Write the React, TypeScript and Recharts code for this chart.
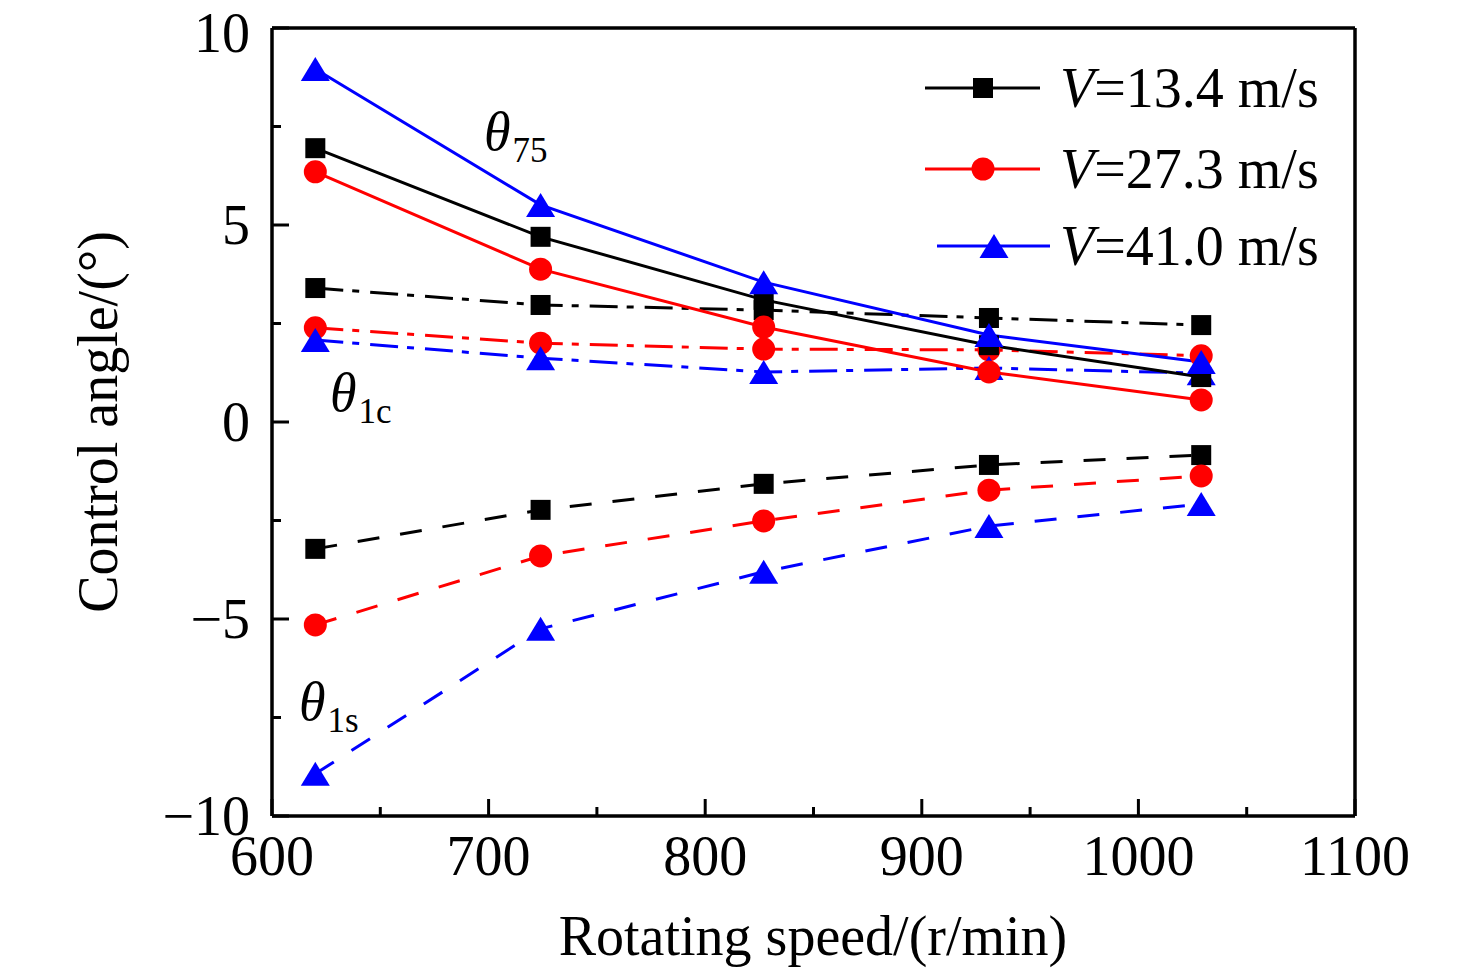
import React from 'react'
import {
  LineChart, Line, XAxis, YAxis, ReferenceLine, Legend, Label,
} from 'recharts'

// rotating speed, r/min
const speeds = [620, 724, 827, 931, 1029]

// theta_75 (solid)
const t75V134 = [6.95, 4.70, 3.10, 1.95, 1.14]
const t75V273 = [6.35, 3.88, 2.41, 1.27, 0.56]
const t75V410 = [8.96, 5.51, 3.55, 2.21, 1.52]

// theta_1c (dash-dot)
const t1cV134 = [3.40, 2.97, 2.84, 2.64, 2.46]
const t1cV273 = [2.39, 2.00, 1.85, 1.83, 1.68]
const t1cV410 = [2.08, 1.62, 1.27, 1.37, 1.24]

// theta_1s (dashed)
const t1sV134 = [-3.22, -2.23, -1.57, -1.09, -0.84]
const t1sV273 = [-5.15, -3.40, -2.51, -1.73, -1.37]
const t1sV410 = [-8.93, -5.25, -3.80, -2.64, -2.08]

const xTicks = [600, 650, 700, 750, 800, 850, 900, 950, 1000, 1050, 1100]
const yTicks = [-10, -7.5, -5, -2.5, 0, 2.5, 5, 7.5, 10]
const legendLabels = ['13.4 m/s', '27.3 m/s', '41.0 m/s']

const FONT = '"Liberation Serif", "Times New Roman", serif'
const FS = 56
const BLACK = '#000000'
const RED = '#ff0000'
const BLUE = '#0000ff'
const DASH = '22 21'
const DASHDOT = '28 9 7 11'

const data = speeds.map((s, i) => ({
  speed: s,
  a1: t75V134[i], a2: t75V273[i], a3: t75V410[i],
  c1: t1cV134[i], c2: t1cV273[i], c3: t1cV410[i],
  s1: t1sV134[i], s2: t1sV273[i], s3: t1sV410[i],
}))

const fmtNum = (v: number) => (v < 0 ? `\u2212${Math.abs(v)}` : `${v}`)

const Square = ({ cx, cy, fill }: any) =>
  cx == null ? null : <rect x={cx - 10} y={cy - 10} width={20} height={20} fill={fill} />
const Circle = ({ cx, cy, fill }: any) =>
  cx == null ? null : <circle cx={cx} cy={cy} r={11.5} fill={fill} />
const Triangle = ({ cx, cy, fill }: any) =>
  cx == null ? null : (
    <polygon points={`${cx},${cy - 12} ${cx + 14.5},${cy + 12} ${cx - 14.5},${cy + 12}`} fill={fill} />
  )

const XTick = ({ x, y, payload }: any) => {
  const major = payload.value % 100 === 0
  return (
    <g>
      <line x1={x} x2={x} y1={y} y2={y - (major ? 17 : 9)} stroke={BLACK} strokeWidth={3} />
      {major && (
        <text x={x} y={y + 59} textAnchor="middle" fontFamily={FONT} fontSize={FS} fill={BLACK}>
          {payload.value}
        </text>
      )}
    </g>
  )
}

const YTick = ({ x, y, payload }: any) => {
  const major = payload.value % 5 === 0
  // keep the top label inside the picture
  const ty = Math.max(y + 19, 52)
  return (
    <g>
      <line x1={x} x2={x + (major ? 17 : 9)} y1={y} y2={y} stroke={BLACK} strokeWidth={3} />
      {major && (
        <text x={x - 22} y={ty} textAnchor="end" fontFamily={FONT} fontSize={FS} fill={BLACK}>
          {fmtNum(payload.value)}
        </text>
      )}
    </g>
  )
}

const LegendBox = () => {
  const rows = [
    { color: BLACK, Marker: Square, x0: 925, x1: 1040, y: 88 },
    { color: RED, Marker: Circle, x0: 925, x1: 1040, y: 169 },
    { color: BLUE, Marker: Triangle, x0: 937, x1: 1050, y: 246 },
  ]
  return (
    <svg width={460} height={240} style={{ position: 'absolute', left: 0, top: 0, overflow: 'visible' }}>
      <g transform="translate(-900,-50)">
        {rows.map((r, i) => (
          <g key={i}>
            <line x1={r.x0} x2={r.x1} y1={r.y} y2={r.y} stroke={r.color} strokeWidth={3} />
            <r.Marker cx={(r.x0 + r.x1) / 2 + 0.5} cy={r.y} fill={r.color} />
            <text x={1060} y={r.y + 19} fontFamily={FONT} fontSize={FS} fill={BLACK}>
              <tspan fontStyle="italic">V</tspan>={legendLabels[i]}
            </text>
          </g>
        ))}
      </g>
    </svg>
  )
}

const Annotation = ({ x, y, sub, subDy = 12 }: { x: number; y: number; sub: string; subDy?: number }) => (
  <text x={x} y={y} fontFamily={FONT} fontSize={54} fill={BLACK}>
    <tspan fontStyle="italic">θ</tspan>
    <tspan fontSize={35} dy={subDy} dx={2}>{sub}</tspan>
  </text>
)

export default function App() {
  const common = { isAnimationActive: false, strokeWidth: 3, type: 'linear' as const, activeDot: false as const }
  return (
    <div style={{ position: 'absolute', left: 0, top: 0, width: 1476, height: 972, background: '#fff' }}>
      <LineChart
        width={1476}
        height={972}
        data={data}
        margin={{ top: 28, right: 121, left: 172, bottom: 56 }}
      >
        <XAxis
          dataKey="speed"
          type="number"
          domain={[600, 1100]}
          ticks={xTicks}
          interval={0}
          tickSize={0}
          tickMargin={0}
          tick={<XTick />}
          height={100}
          axisLine={{ stroke: BLACK, strokeWidth: 3.5 }}
          tickLine={false}
        >
          <Label
            content={() => (
              <text x={813} y={955} textAnchor="middle" fontFamily={FONT} fontSize={FS} fill={BLACK}>
                Rotating speed/(r/min)
              </text>
            )}
          />
        </XAxis>
        <YAxis
          type="number"
          domain={[-10, 10]}
          ticks={yTicks}
          interval={0}
          tickSize={0}
          tickMargin={0}
          tick={<YTick />}
          width={100}
          axisLine={{ stroke: BLACK, strokeWidth: 3.5 }}
          tickLine={false}
        >
          <Label
            content={() => (
              <text
                x={117}
                y={422}
                textAnchor="middle"
                transform="rotate(-90 117 422)"
                fontFamily={FONT}
                fontSize={FS}
                fill={BLACK}
              >
                Control angle/(°)
              </text>
            )}
          />
        </YAxis>
        <ReferenceLine y={10} stroke={BLACK} strokeWidth={3.5} />
        <ReferenceLine x={1100} stroke={BLACK} strokeWidth={3.5} />

        <Line dataKey="c1" stroke={BLACK} strokeDasharray={DASHDOT} dot={<Square fill={BLACK} />} {...common} />
        <Line dataKey="c2" stroke={RED} strokeDasharray={DASHDOT} dot={<Circle fill={RED} />} {...common} />
        <Line dataKey="c3" stroke={BLUE} strokeDasharray={DASHDOT} dot={<Triangle fill={BLUE} />} {...common} />

        <Line dataKey="s1" stroke={BLACK} strokeDasharray={DASH} dot={<Square fill={BLACK} />} {...common} />
        <Line dataKey="s2" stroke={RED} strokeDasharray={DASH} dot={<Circle fill={RED} />} {...common} />
        <Line dataKey="s3" stroke={BLUE} strokeDasharray={DASH} dot={<Triangle fill={BLUE} />} {...common} />

        <Line dataKey="a1" stroke={BLACK} dot={<Square fill={BLACK} />} {...common} />
        <Line dataKey="a2" stroke={RED} dot={<Circle fill={RED} />} {...common} />
        <Line dataKey="a3" stroke={BLUE} dot={<Triangle fill={BLUE} />} {...common} />

        <Legend
          layout="vertical"
          align="center"
          verticalAlign="middle"
          wrapperStyle={{ left: 900, top: 50, width: 460, height: 240 }}
          content={() => <LegendBox />}
        />
      </LineChart>
      <svg
        width={1476}
        height={972}
        style={{ position: 'absolute', left: 0, top: 0, pointerEvents: 'none' }}
      >
        <Annotation x={484} y={150} sub="75" />
        <Annotation x={330} y={411} sub="1c" />
        <Annotation x={299} y={720} sub="1s" />
      </svg>
    </div>
  )
}
